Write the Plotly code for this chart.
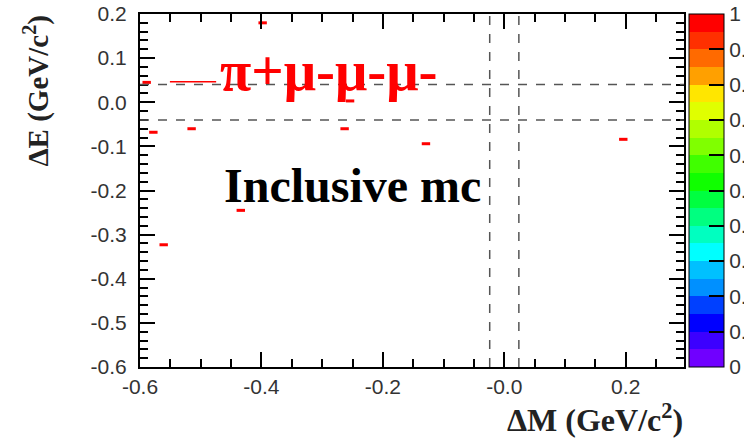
import plotly.graph_objects as go

# ---- data ----
dM = [-0.398, -0.589, -0.454, -0.578, -0.515, -0.434, -0.561, -0.254, -0.263, -0.129, 0.196]
dE = [0.180, 0.045, 0.029, -0.068, -0.060, -0.245, -0.323, 0.003, -0.060, -0.094, -0.084]
counts = [1] * len(dM)

x_tickvals = [-0.6, -0.4, -0.2, 0.0, 0.2]
x_ticktext = ["-0.6", "-0.4", "-0.2", "-0.0", "0.2"]
y_tickvals = [0.2, 0.1, 0.0, -0.1, -0.2, -0.3, -0.4, -0.5, -0.6]
y_ticktext = ["0.2", "0.1", "0.0", "-0.1", "-0.2", "-0.3", "-0.4", "-0.5", "-0.6"]
cb_tickvals = [1.0, 0.9, 0.8, 0.7, 0.6, 0.5, 0.4, 0.3, 0.2, 0.1, 0.0]
cb_ticktext = ["1", "0.9", "0.8", "0.7", "0.6", "0.5", "0.4", "0.3", "0.2", "0.1", "0"]

dE_window = [-0.04, 0.04]
dM_window = [-0.024, 0.024]

# ---- discrete rainbow palette (20 bands, violet -> red) ----
band_colors = ["#7000ff", "#3c00ff", "#0000ff", "#0040ff", "#0090ff", "#00c0ff",
               "#00ffff", "#00ffc0", "#00ff80", "#00ff40", "#10ff00", "#40ff00",
               "#80ff00", "#b0ff00", "#e0ff00", "#ffe600", "#ffa000", "#ff6a00",
               "#ff3000", "#ff0000"]
nb = len(band_colors)
cs = []
for i, col in enumerate(band_colors):
    cs.append([i / nb, col])
    cs.append([(i + 1) / nb, col])

TICKFONT = dict(family="Liberation Sans", size=21, color="#333")

fig = go.Figure()
fig.add_trace(go.Scatter(
    x=dM, y=dE, mode="markers",
    marker=dict(symbol="line-ew", size=6, color=counts, cmin=0, cmax=1,
                colorscale=cs, line=dict(width=3, color="red"),
                showscale=True,
                colorbar=dict(x=1.009, xanchor="left", y=0.5, yanchor="middle",
                              len=1, lenmode="fraction", thickness=35,
                              xpad=0, ypad=0, outlinewidth=1, outlinecolor="black",
                              tickmode="array", tickvals=cb_tickvals, ticktext=cb_ticktext,
                              ticks="inside", ticklen=15, tickcolor="black", tickwidth=1.5,
                              tickfont=TICKFONT)),
    showlegend=False, hoverinfo="x+y"))

# dashed window lines
for v in dE_window:
    fig.add_hline(y=v, line=dict(color="#555", width=1.5, dash="dash"))
for v in dM_window:
    fig.add_vline(x=v, line=dict(color="#555", width=1.5, dash="dash"))

axis_common = dict(showgrid=False, zeroline=False, showline=True, linecolor="black",
                   linewidth=2, mirror="ticks", ticks="inside", ticklen=15,
                   tickwidth=1.5, tickcolor="black", tickfont=TICKFONT)

fig.update_xaxes(range=[-0.6, 0.296], tickmode="array", tickvals=x_tickvals,
                 ticktext=x_ticktext, ticklabelstandoff=0,
                 minor=dict(tick0=-0.6, dtick=0.05, ticks="inside", ticklen=8,
                            tickcolor="black", tickwidth=1.5),
                 **axis_common)
fig.update_yaxes(range=[-0.6, 0.2], tickmode="array", tickvals=y_tickvals,
                 ticktext=y_ticktext, ticklabelstandoff=7,
                 minor=dict(tick0=-0.6, dtick=0.02, ticks="inside", ticklen=8,
                            tickcolor="black", tickwidth=1.5),
                 **axis_common)

# red underline fragment near the label
fig.add_shape(type="line", xref="paper", yref="paper", x0=0.055, x1=0.14, y0=0.808, y1=0.808,
              line=dict(color="red", width=1.5))

fig.add_annotation(text="<b>π+μ-μ-μ-</b>", xref="paper", yref="paper", x=0.347, y=0.935,
                   showarrow=False, font=dict(family="Liberation Serif", size=57, color="red"))
fig.add_annotation(text="<b>Inclusive mc</b>", xref="paper", yref="paper", x=0.39, y=0.515,
                   showarrow=False, font=dict(family="Liberation Serif", size=48, color="black"))
fig.add_annotation(text="<b>ΔE (GeV/c<sup>2</sup>)</b>", xref="paper", yref="paper",
                   x=-0.19, y=1.003, xanchor="center", yanchor="top", textangle=-90,
                   showarrow=False, font=dict(family="Liberation Serif", size=29, color="#222"))
fig.add_annotation(text="<b>ΔM (GeV/c<sup>2</sup>)</b>", xref="paper", yref="paper",
                   x=1.002, y=-0.145, xanchor="right", yanchor="middle",
                   showarrow=False, font=dict(family="Liberation Serif", size=32, color="#222"))

fig.update_layout(width=744, height=438,
                  margin=dict(l=140, r=60, t=14, b=71, autoexpand=False),
                  paper_bgcolor="white", plot_bgcolor="white")
fig.write_html("out.html")
